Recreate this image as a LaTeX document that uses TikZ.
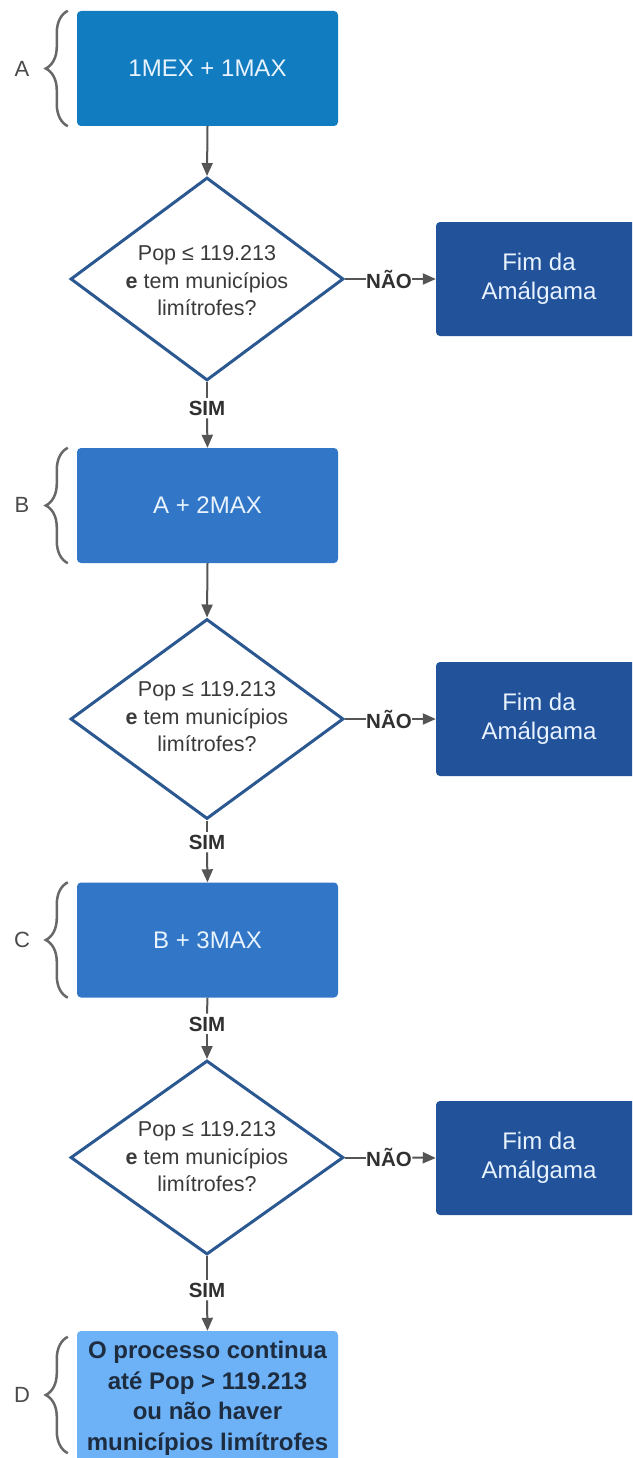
\documentclass[tikz,border=0pt]{standalone}
\usepackage{fontspec}
\setmainfont{Liberation Sans}
\usetikzlibrary{shapes.geometric,arrows.meta,decorations.pathreplacing}

\definecolor{boxA}{HTML}{117CBF}
\definecolor{boxBC}{HTML}{3176C7}
\definecolor{boxEnd}{HTML}{21529A}
\definecolor{boxD}{HTML}{6DB2F7}
\definecolor{decEdge}{HTML}{2B5891}
\definecolor{lightText}{HTML}{E8F3FF}
\definecolor{darkText}{HTML}{3A3A3A}
\definecolor{answerText}{HTML}{303030}
\definecolor{navyText}{HTML}{1E2C40}
\definecolor{connGray}{HTML}{555555}
\definecolor{braceGray}{HTML}{686868}
\definecolor{labelGray}{HTML}{4A4A4A}

\tikzset{
  stepbox/.style={rectangle, rounded corners=4pt, minimum width=261pt,
    minimum height=115pt, inner sep=0pt, text=lightText, align=center,
    font=\fontsize{24}{28}\selectfont},
  endbox/.style={rectangle, rounded corners=4pt, fill=boxEnd, minimum width=206pt,
    minimum height=114pt, inner sep=0pt, text=lightText, align=center,
    font=\fontsize{24}{28.5}\selectfont},
  decision/.style={diamond, draw=decEdge, line width=3pt, fill=white,
    minimum width=273pt, inner sep=0pt},
  qtext/.style={text=darkText, align=center, font=\fontsize{21.5}{27.5}\selectfont},
  conn/.style={draw=connGray, line width=2pt},
  arr/.style={conn, -{Triangle[length=13pt,width=11pt]}},
  answer/.style={text=answerText, inner sep=3pt, font=\bfseries\fontsize{20.5}{24}\selectfont},
  sideanswer/.style={answer, inner xsep=0.5pt},
  sidebrace/.style={draw=braceGray, line width=2.5pt, decorate,
    decoration={brace, amplitude=22pt}},
  sidelabel/.style={text=labelGray, font=\fontsize{22}{26}\selectfont}
}

\begin{document}
\begin{tikzpicture}[x=1pt, y=-1pt]
  \clip (0,0) rectangle (632,1458);
  \fill[white] (0,0) rectangle (632,1458);

  % main column of steps
  \node[stepbox, fill=boxA]  (bA) at (207.5,68.5)  {1MEX + 1MAX};
  \node[stepbox, fill=boxBC] (bB) at (207.5,505.5) {A + 2MAX};
  \node[stepbox, fill=boxBC] (bC) at (207.5,940)   {B + 3MAX};
  \node[stepbox, fill=boxD, minimum height=135pt, text=navyText,
        font=\bfseries\fontsize{24}{30.5}\selectfont] (bD) at (207.5,1398.5)
        {O processo continua\\até Pop > 119.213\\ou não haver\\municípios limítrofes};

  % decisions
  \node[decision, minimum height=203pt] (d1) at (207,279)    {};
  \node[decision, minimum height=200pt] (d2) at (207,719)    {};
  \node[decision, minimum height=194pt] (d3) at (207,1157.5) {};
  \node[qtext] (q1) at (207,281)  {Pop ≤ 119.213\\\textbf{e} tem municípios\\limítrofes?};
  \node[qtext] (q2) at (207,717)  {Pop ≤ 119.213\\\textbf{e} tem municípios\\limítrofes?};
  \node[qtext] (q3) at (207,1157) {Pop ≤ 119.213\\\textbf{e} tem municípios\\limítrofes?};

  % end states
  \node[endbox] (f1) at (539,279)  {Fim da\\Amálgama};
  \node[endbox] (f2) at (539,719)  {Fim da\\Amálgama};
  \node[endbox] (f3) at (539,1158) {Fim da\\Amálgama};

  % answer labels
  \node[sideanswer] (n1) at (389,279)    {NÃO};
  \node[sideanswer] (n2) at (389,719)    {NÃO};
  \node[sideanswer] (n3) at (389,1157.5) {NÃO};
  \node[answer] (s1) at (207,408)  {SIM};
  \node[answer] (s2) at (207,842)  {SIM};
  \node[answer] (s3) at (207,1024) {SIM};
  \node[answer] (s4) at (207,1290) {SIM};

  % connectors
  \draw[arr] (bA.south) -- (d1.north);
  \draw[conn] (d1.south) -- (s1.north);
  \draw[arr] (s1.south) -- (bB.north);
  \draw[conn] (d1.east) -- (n1.west);
  \draw[arr] (n1.east) -- (f1.west);

  \draw[arr] (bB.south) -- (d2.north);
  \draw[conn] (d2.south) -- (s2.north);
  \draw[arr] (s2.south) -- (bC.north);
  \draw[conn] (d2.east) -- (n2.west);
  \draw[arr] (n2.east) -- (f2.west);

  \draw[conn] (bC.south) -- (s3.north);
  \draw[arr] (s3.south) -- (d3.north);
  \draw[conn] (d3.south) -- (s4.north);
  \draw[arr] (s4.south) -- (bD.north);
  \draw[conn] (d3.east) -- (n3.west);
  \draw[arr] (n3.east) -- (f3.west);

  % stage braces and their letters
  \draw[sidebrace] ([xshift=-9pt]bA.south west) -- ([xshift=-9pt]bA.north west);
  \draw[sidebrace] ([xshift=-9pt]bB.south west) -- ([xshift=-9pt]bB.north west);
  \draw[sidebrace] ([xshift=-9pt]bC.south west) -- ([xshift=-9pt]bC.north west);
  \draw[sidebrace] ([xshift=-9pt,yshift=13pt]bD.south west) -- ([xshift=-9pt,yshift=-6pt]bD.north west);

  \node[sidelabel] (lA) at (22,68.5) {A};
  \node[sidelabel] (lB) at (22,505)  {B};
  \node[sidelabel] (lC) at (22,940)  {C};
  \node[sidelabel] (lD) at (22,1395) {D};
\end{tikzpicture}
\end{document}
